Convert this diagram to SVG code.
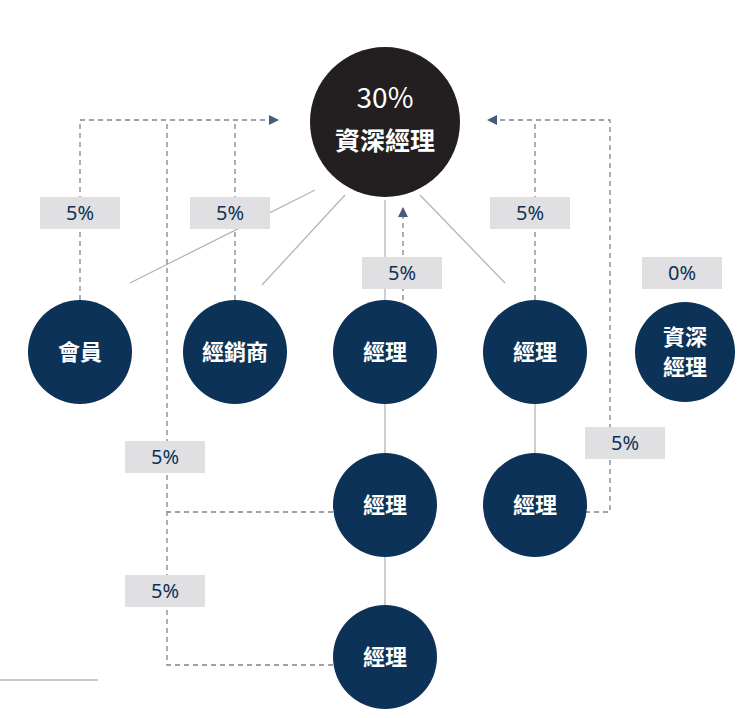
<svg xmlns="http://www.w3.org/2000/svg" width="740" height="718" viewBox="0 0 740 718">
<defs>
<marker id="ar" viewBox="0 0 10 10" refX="9" refY="5" markerWidth="10" markerHeight="10" markerUnits="userSpaceOnUse" orient="auto"><path d="M0,0L10,5L0,10z" fill="#4a5a7a"/></marker>
<style>
.n{fill:#0d3257}
.t{font-family:"Noto Sans CJK TC","Noto Sans",sans-serif;font-size:22px;font-weight:bold;fill:#fff;text-anchor:middle}
.s{stroke:#b5b5b5;stroke-width:1.3;fill:none}
.d{stroke:#7a8496;stroke-width:1.3;stroke-dasharray:5,4;fill:none}
.b{fill:#e0e0e2}
.l{font-family:"Noto Sans",sans-serif;font-size:20px;fill:#0d3257;text-anchor:middle}
</style>
</defs>
<rect width="740" height="718" fill="#fff"/>
<g id="connectors">
<path class="s" d="M315,190L130,283M345,195L262,285M385,200V300M420,195L505,283M385,404V453M385,557V605M535,404V453M0,680H98"/>
<path class="d" d="M80,300V120H278" marker-end="url(#ar)"/>
<path class="d" d="M235,300V120"/>
<path class="d" d="M333,665H167V120"/>
<path class="d" d="M333,512H167"/>
<path class="d" d="M403,300V208" marker-end="url(#ar)"/>
<path class="d" d="M585,512H610V120H488" marker-end="url(#ar)"/>
<path class="d" d="M535,300V120"/>
</g>
<g id="labels">
<rect class="b" x="40" y="197" width="80" height="32"/><text class="l" x="80" y="220">5%</text>
<rect class="b" x="190" y="197" width="80" height="32"/><text class="l" x="230" y="220">5%</text>
<rect class="b" x="362" y="257" width="80" height="32"/><text class="l" x="402" y="280">5%</text>
<rect class="b" x="490" y="197" width="80" height="32"/><text class="l" x="530" y="220">5%</text>
<rect class="b" x="642" y="257" width="80" height="32"/><text class="l" x="682" y="280">0%</text>
<rect class="b" x="125" y="441" width="80" height="32"/><text class="l" x="165" y="464">5%</text>
<rect class="b" x="585" y="427" width="80" height="32"/><text class="l" x="625" y="450">5%</text>
<rect class="b" x="125" y="575" width="80" height="32"/><text class="l" x="165" y="598">5%</text>
</g>
<g id="top"><circle cx="385" cy="122" r="75" fill="#231f20"/><text class="t" x="385" y="108" font-size="28" style="font-size:28px;font-weight:normal">30%</text><text class="t" x="385" y="150" style="font-size:25px">資深經理</text></g>
<g id="n1"><circle class="n" cx="80" cy="352" r="52"/><text class="t" x="80" y="360">會員</text></g>
<g id="n2"><circle class="n" cx="235" cy="352" r="52"/><text class="t" x="235" y="360">經銷商</text></g>
<g id="n3"><circle class="n" cx="385" cy="352" r="52"/><text class="t" x="385" y="360">經理</text></g>
<g id="n4"><circle class="n" cx="535" cy="352" r="52"/><text class="t" x="535" y="360">經理</text></g>
<g id="n5"><circle class="n" cx="685" cy="352" r="50"/><text class="t" x="685" y="345">資深</text><text class="t" x="685" y="375">經理</text></g>
<g id="n6"><circle class="n" cx="385" cy="505" r="52"/><text class="t" x="385" y="513">經理</text></g>
<g id="n7"><circle class="n" cx="535" cy="505" r="52"/><text class="t" x="535" y="513">經理</text></g>
<g id="n8"><circle class="n" cx="385" cy="657" r="52"/><text class="t" x="385" y="665">經理</text></g>
</svg>
